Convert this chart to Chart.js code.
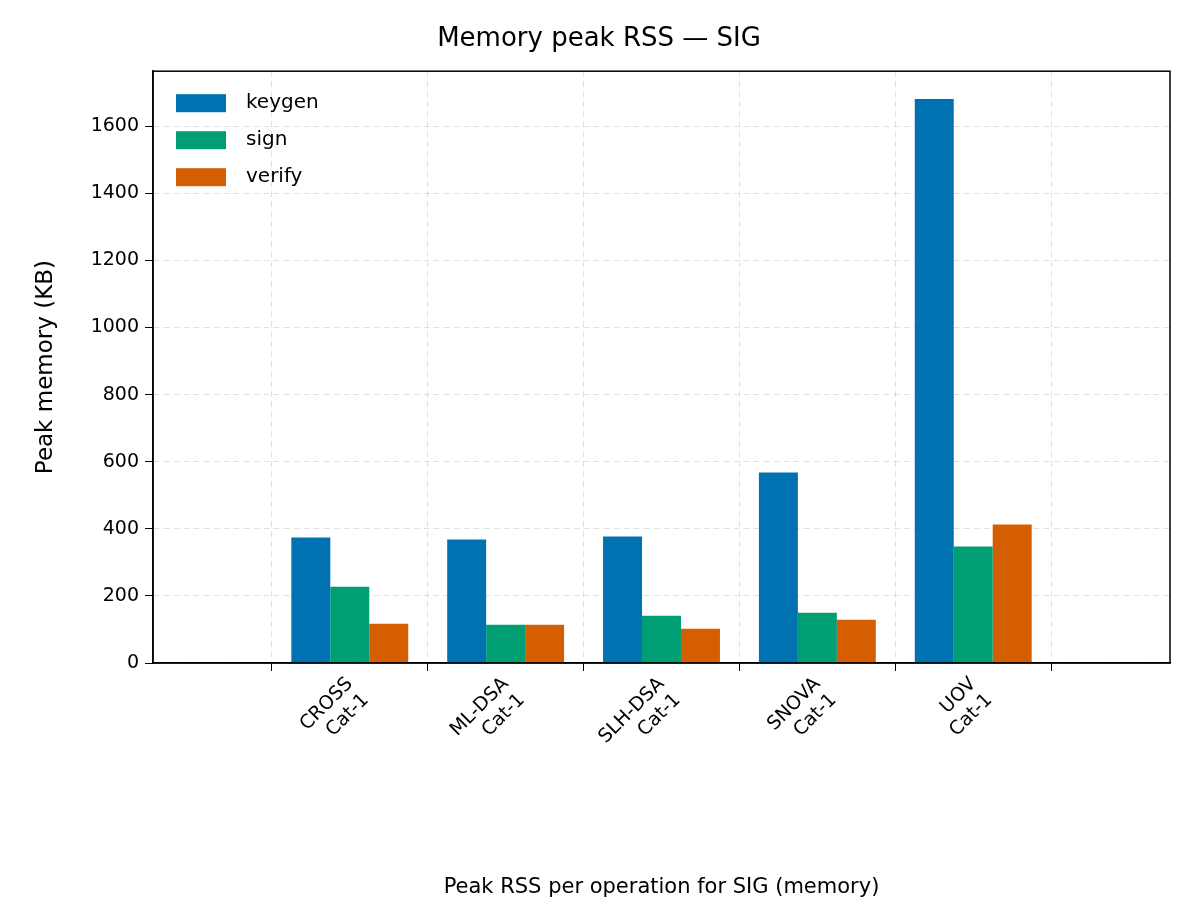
<!DOCTYPE html>
<html lang="en">
  <head>
    <meta charset="UTF-8" />
    <title>Memory peak RSS — SIG</title>
    <script src="https://cdn.jsdelivr.net/npm/chart.js"></script>
    <style>
      body { margin: 0; background: #fff; }
    </style>
  </head>
  <body>
    <canvas id="memChart" width="1200" height="900"></canvas>
    <script>
      const categories = [["CROSS", "Cat-1"], ["ML-DSA", "Cat-1"], ["SLH-DSA", "Cat-1"], ["SNOVA", "Cat-1"], ["UOV", "Cat-1"]];
      const keygen = [374, 368, 377, 568, 1681];
      const sign = [227, 114, 141, 150, 347];
      const verify = [117, 114, 102, 129, 413];
      const yTicks = [0, 200, 400, 600, 800, 1000, 1200, 1400, 1600];

      const font = "'DejaVu Sans', sans-serif";
      const pts = (arr) => arr.map((v, i) => ({ x: i, y: v }));

      // legend inside the plot area plus a full box round it
      const insideLegend = {
        id: "insideLegend",
        afterDraw(chart) {
          const ctx = chart.ctx;
          const a = chart.chartArea;
          ctx.save();
          ctx.strokeStyle = "#000";
          ctx.lineWidth = 1.5;
          ctx.strokeRect(a.left, a.top, a.right - a.left, a.bottom - a.top);
          ctx.font = "20px " + font;
          ctx.textBaseline = "middle";
          chart.data.datasets.forEach((ds, i) => {
            const y = a.top + 32 + i * 37;
            ctx.fillStyle = ds.backgroundColor;
            ctx.fillRect(a.left + 23, y - 9, 50, 18);
            ctx.fillStyle = "#000";
            ctx.fillText(ds.label, a.left + 93, y);
          });
          ctx.restore();
        },
      };

      new Chart(document.getElementById("memChart"), {
        type: "bar",
        data: {
          datasets: [
            { label: "keygen", data: pts(keygen), backgroundColor: "#0072b2" },
            { label: "sign", data: pts(sign), backgroundColor: "#009e73" },
            { label: "verify", data: pts(verify), backgroundColor: "#d55e00" },
          ],
        },
        options: {
          responsive: false,
          animation: false,
          layout: { padding: { left: 28, right: 30, top: 0, bottom: 0 } },
          datasets: { bar: { barPercentage: 1, categoryPercentage: 0.75 } },
          plugins: {
            legend: { display: false },
            tooltip: { enabled: false },
            title: {
              display: true,
              text: "Memory peak RSS — SIG",
              color: "#000",
              font: { family: font, size: 26, weight: "normal" },
              padding: { top: 24, bottom: 16 },
            },
          },
          scales: {
            x: {
              type: "linear",
              min: -0.61,
              max: 4.61,
              afterBuildTicks: (s) => { s.ticks = categories.map((c, i) => ({ value: i })); },
              border: { color: "#000", width: 1.5, dash: [6, 4] },
              grid: { color: "rgba(0,0,0,0.12)", tickColor: "#000", tickLength: 8 },
              ticks: {
                color: "#000",
                font: { family: font, size: 19 },
                maxRotation: 45,
                minRotation: 45,
                padding: 2,
                callback: (v) => categories[v],
              },
              title: {
                display: true,
                text: "Peak RSS per operation for SIG (memory)",
                color: "#000",
                font: { family: font, size: 21 },
                padding: { top: 80, bottom: 0 },
              },
              afterFit: (s) => { s.height = 237; },
            },
            y: {
              min: 0,
              max: 1764,
              afterBuildTicks: (s) => { s.ticks = yTicks.map((v) => ({ value: v })); },
              border: { color: "#000", width: 1.5, dash: [6, 4] },
              grid: { color: "rgba(0,0,0,0.12)", tickColor: "#000", tickLength: 8 },
              ticks: { color: "#000", font: { family: font, size: 19 }, padding: 6, callback: (v) => String(v) },
              title: {
                display: true,
                text: "Peak memory (KB)",
                color: "#000",
                font: { family: font, size: 23 },
                padding: { bottom: 8 },
              },
              afterFit: (s) => { s.width = 125; },
            },
          },
        },
        plugins: [insideLegend],
      });
    </script>
  </body>
</html>
